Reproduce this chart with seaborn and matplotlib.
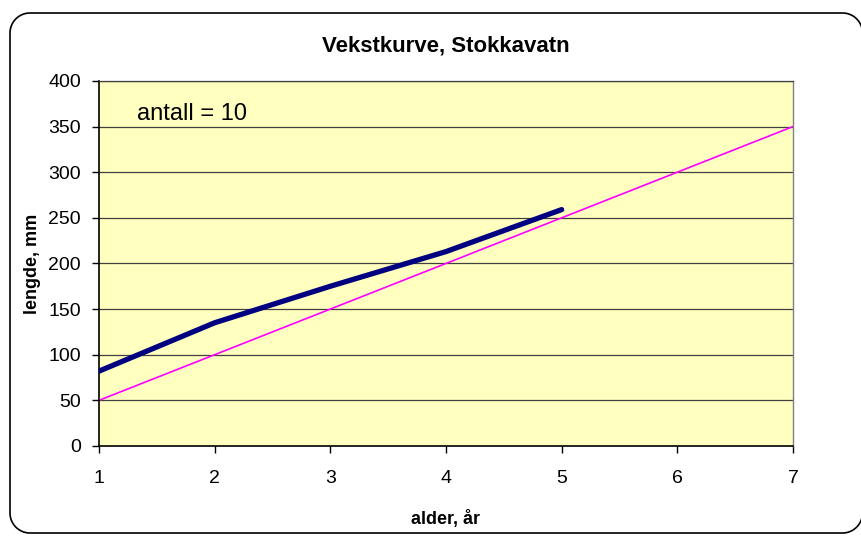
import matplotlib
matplotlib.use("Agg")
import matplotlib.pyplot as plt
import seaborn as sns
import pandas as pd
import numpy as np
from matplotlib.lines import Line2D

# data
alder = [1, 2, 3, 4, 5]
lengde = [82, 135, 175, 213, 259]
ref_alder = [1, 7]
ref_lengde = [50, 350]

df = pd.DataFrame({"alder": alder, "lengde": lengde})
ref = pd.DataFrame({"alder": ref_alder, "lengde": ref_lengde})

sns.set_theme(style="white")
plt.rcParams["font.family"] = ["Liberation Sans", "DejaVu Sans"]
plt.rcParams["text.color"] = "black"
plt.rcParams["axes.labelcolor"] = "black"
plt.rcParams["xtick.color"] = "black"
plt.rcParams["ytick.color"] = "black"

W, H = 861, 536
fig = plt.figure(figsize=(W / 100, H / 100), dpi=100)
ax = fig.add_axes([0.115, 0.168, 0.806, 0.681])
ax.set_facecolor("#FFFFC0")

# rounded frame around the chart, in pixels (right edge just off the canvas)
x0, x1, y0, y1, r = 10, 862.5, 3, 523, 20
t = np.linspace(0, np.pi / 2, 20)
fx, fy = [], []
for cx, cy, a0 in [(x1 - r, y1 - r, 0), (x0 + r, y1 - r, np.pi / 2),
                   (x0 + r, y0 + r, np.pi), (x1 - r, y0 + r, 1.5 * np.pi)]:
    fx.extend(cx + r * np.cos(a0 + t))
    fy.extend(cy + r * np.sin(a0 + t))
fx.append(fx[0])
fy.append(fy[0])
fig.lines.append(Line2D(np.array(fx) / W, np.array(fy) / H,
                        transform=fig.transFigure, color="black",
                        linewidth=1.2))

for yv in range(50, 401, 50):
    ax.axhline(yv, color="#404040", linewidth=0.9, zorder=1)

sns.lineplot(data=ref, x="alder", y="lengde", ax=ax, color="#FF00FF",
             linewidth=1.2, zorder=2)
sns.lineplot(data=df, x="alder", y="lengde", ax=ax, color="#000080",
             linewidth=3.8, solid_capstyle="round", zorder=3)

ax.set_xlim(1, 7)
ax.set_ylim(0, 400)
ax.set_xticks(range(1, 8))
ax.set_yticks(range(0, 401, 50))
ax.tick_params(axis="both", labelsize=14, length=5, width=1,
               direction="out", bottom=True, left=True)
ax.tick_params(axis="x", pad=12)
ax.tick_params(axis="y", pad=8)

for side in ["left", "bottom"]:
    ax.spines[side].set_color("black")
    ax.spines[side].set_linewidth(1.2)
ax.spines["right"].set_color("#808080")
ax.spines["top"].set_color("#404040")
ax.spines["right"].set_linewidth(1)
ax.spines["top"].set_linewidth(0.9)

ax.set_xlabel("alder, år", fontsize=13, fontweight="bold", labelpad=17)
ax.set_ylabel("lengde, mm", fontsize=13, fontweight="bold", labelpad=5)
ax.set_title("Vekstkurve, Stokkavatn", fontsize=16, fontweight="bold", pad=21)

ax.text(0.055, 0.91, "antall = 10", transform=ax.transAxes, fontsize=17,
        va="center", ha="left")

fig.savefig("out.png", dpi=100)
